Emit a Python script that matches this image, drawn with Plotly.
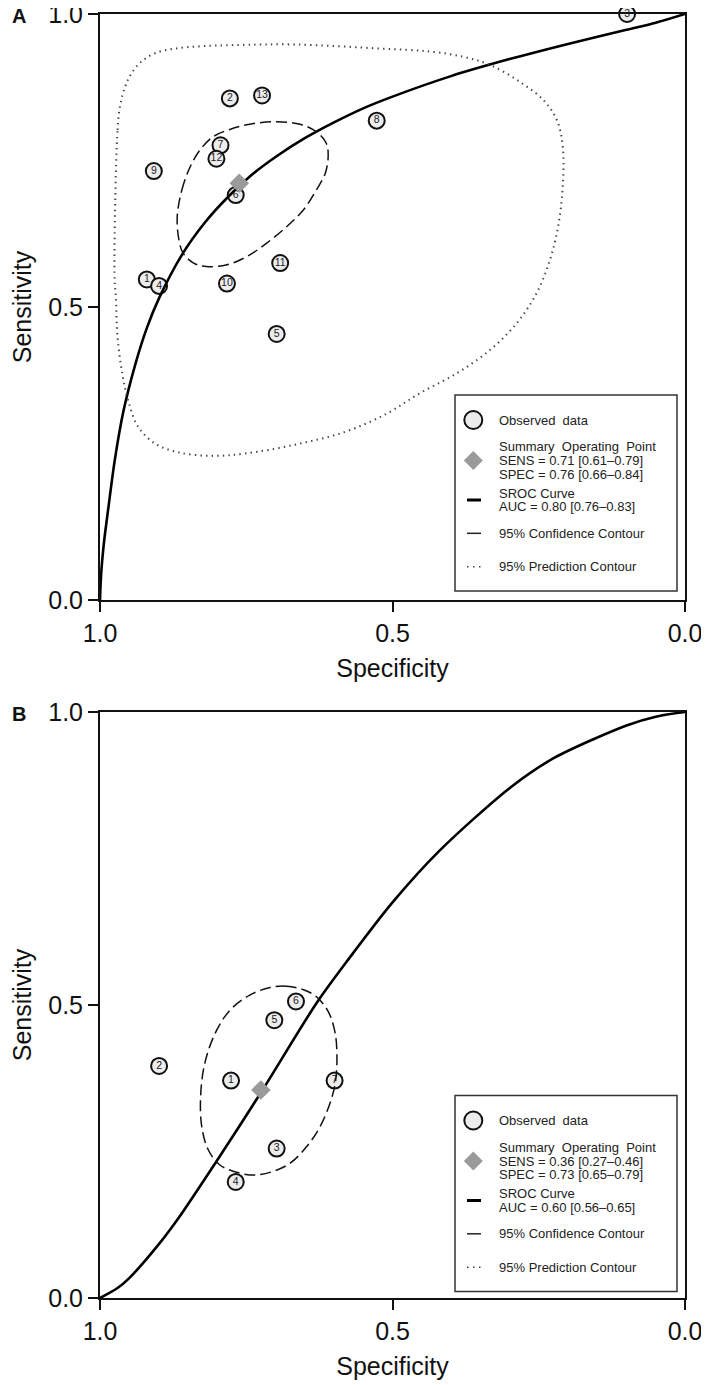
import plotly.graph_objects as go
from plotly.subplots import make_subplots

# ---- panel A data ----
a_study = ["1", "2", "3", "4", "5", "6", "7", "8", "9", "10", "11", "12", "13"]
a_spec = [0.920, 0.778, 0.099, 0.899, 0.698, 0.768, 0.794, 0.527, 0.908, 0.783, 0.692, 0.801, 0.723]
a_sens = [0.547, 0.856, 1.000, 0.536, 0.454, 0.691, 0.776, 0.818, 0.732, 0.540, 0.575, 0.753, 0.861]
a_summary = (0.762, 0.711)

a_sroc_spec = [1.0, 0.998, 0.993, 0.986, 0.975, 0.96, 0.94, 0.92, 0.90, 0.86, 0.82, 0.78, 0.74,
               0.70, 0.65, 0.60, 0.55, 0.50, 0.40, 0.30, 0.20, 0.10, 0.05, 0.0]
a_sroc_sens = [0.0, 0.045, 0.100, 0.155, 0.237, 0.322, 0.401, 0.464, 0.513, 0.589, 0.645, 0.689, 0.726,
               0.756, 0.788, 0.815, 0.839, 0.859, 0.894, 0.923, 0.949, 0.973, 0.985, 1.0]

a_conf_spec = [0.868, 0.860, 0.846, 0.829, 0.806, 0.778, 0.744, 0.704, 0.658, 0.630, 0.613, 0.610,
               0.615, 0.630, 0.652, 0.681, 0.715, 0.749, 0.783, 0.818, 0.840, 0.858, 0.865, 0.868]
a_conf_sens = [0.654, 0.700, 0.739, 0.768, 0.791, 0.803, 0.812, 0.816, 0.812, 0.799, 0.779, 0.757,
               0.728, 0.700, 0.666, 0.637, 0.609, 0.586, 0.572, 0.569, 0.575, 0.592, 0.614, 0.654]

a_pred_spec = [0.974, 0.970, 0.966, 0.957, 0.946, 0.929, 0.906, 0.872, 0.826, 0.769, 0.667, 0.521,
               0.436, 0.379, 0.333, 0.282, 0.242, 0.219, 0.209, 0.209, 0.217, 0.231, 0.254, 0.288,
               0.333, 0.390, 0.453, 0.510, 0.581, 0.667, 0.752, 0.809, 0.866, 0.906, 0.935, 0.952,
               0.962, 0.970, 0.973, 0.975, 0.974]
a_pred_sens = [0.680, 0.802, 0.842, 0.876, 0.899, 0.919, 0.933, 0.941, 0.945, 0.947, 0.948, 0.941,
               0.936, 0.927, 0.913, 0.884, 0.853, 0.819, 0.774, 0.705, 0.637, 0.580, 0.523, 0.472,
               0.427, 0.387, 0.353, 0.318, 0.287, 0.265, 0.250, 0.246, 0.252, 0.267, 0.296, 0.341,
               0.387, 0.449, 0.518, 0.546, 0.680]

a_legend = ["Observed\u00a0 data",
            "Summary\u00a0 Operating\u00a0 Point", "SENS = 0.71 [0.61\u20130.79]", "SPEC = 0.76 [0.66\u20130.84]",
            "SROC Curve", "AUC = 0.80 [0.76\u20130.83]",
            "95% Confidence Contour", "95% Prediction Contour"]

# ---- panel B data ----
b_study = ["1", "2", "3", "4", "5", "6", "7"]
b_spec = [0.776, 0.899, 0.698, 0.768, 0.702, 0.665, 0.599]
b_sens = [0.371, 0.396, 0.255, 0.198, 0.474, 0.506, 0.371]
b_summary = (0.725, 0.355)

b_sroc_spec = [1.0, 0.97, 0.95, 0.90, 0.866, 0.803, 0.724, 0.630, 0.576, 0.50, 0.42, 0.30, 0.223,
               0.10, 0.05, 0.0]
b_sroc_sens = [0.0, 0.017, 0.034, 0.091, 0.136, 0.230, 0.352, 0.503, 0.577, 0.675, 0.763, 0.870,
               0.922, 0.977, 0.992, 1.0]

b_conf_spec = [0.652, 0.681, 0.709, 0.744, 0.778, 0.803, 0.821, 0.828, 0.826, 0.815, 0.795, 0.761,
               0.732, 0.704, 0.675, 0.647, 0.624, 0.607, 0.598, 0.595, 0.598, 0.610, 0.630, 0.652]
b_conf_sens = [0.526, 0.532, 0.530, 0.517, 0.491, 0.452, 0.400, 0.344, 0.292, 0.253, 0.227, 0.213,
               0.210, 0.216, 0.230, 0.258, 0.292, 0.332, 0.366, 0.406, 0.452, 0.489, 0.514, 0.526]

b_legend = ["Observed\u00a0 data",
            "Summary\u00a0 Operating\u00a0 Point", "SENS = 0.36 [0.27\u20130.46]", "SPEC = 0.73 [0.65\u20130.79]",
            "SROC Curve", "AUC = 0.60 [0.56\u20130.65]",
            "95% Confidence Contour", "95% Prediction Contour"]

FONT = "Liberation Sans, Arial, sans-serif"
PW, PH = 585.0, 586.0  # plot area size in px

# the page body has an 8px margin, so the margins below are shifted by 8px
fig = make_subplots(rows=2, cols=1, vertical_spacing=0.0872)


def add_panel(row, study, spec, sens, summary, sroc, conf, pred):
    fig.add_trace(go.Scatter(
        x=spec, y=sens, text=study, mode="markers+text",
        textposition="middle center", textfont=dict(size=10.5, color="#222", family=FONT),
        marker=dict(size=16, color="#ececec", line=dict(color="#111", width=2)),
        cliponaxis=False, showlegend=False), row=row, col=1)
    fig.add_trace(go.Scatter(
        x=sroc[0], y=sroc[1], mode="lines", line=dict(color="#000", width=2.6, shape="spline", smoothing=0.8),
        showlegend=False), row=row, col=1)
    fig.add_trace(go.Scatter(
        x=conf[0], y=conf[1], mode="lines",
        line=dict(color="#111", width=1.5, dash="11px,5px", shape="spline", smoothing=1),
        showlegend=False), row=row, col=1)
    if pred is not None:
        fig.add_trace(go.Scatter(
            x=pred[0], y=pred[1], mode="lines",
            line=dict(color="#444", width=2, dash="1.4px,4.2px", shape="spline", smoothing=1),
            showlegend=False), row=row, col=1)
    fig.add_trace(go.Scatter(
        x=[summary[0]], y=[summary[1]], mode="markers",
        marker=dict(symbol="diamond", size=15, color="#9a9a9a", line=dict(width=0)),
        showlegend=False), row=row, col=1)


add_panel(1, a_study, a_spec, a_sens, a_summary, (a_sroc_spec, a_sroc_sens),
          (a_conf_spec, a_conf_sens), (a_pred_spec, a_pred_sens))
add_panel(2, b_study, b_spec, b_sens, b_summary, (b_sroc_spec, b_sroc_sens),
          (b_conf_spec, b_conf_sens), None)


def add_legend(suffix, top, labels):
    xr, yr = "x%s domain" % suffix, "y%s domain" % suffix
    bx = 355.0

    def fx(off):
        return (bx + off) / PW

    def fy(off):
        return (top - off) / PH

    fig.add_shape(type="rect", xref=xr, yref=yr, x0=fx(0), x1=fx(222), y0=fy(196), y1=fy(0),
                  line=dict(color="#333", width=1.5), fillcolor="white", layer="above")
    # symbols
    fig.add_shape(type="circle", xref=xr, yref=yr, x0=fx(18.3 - 9), x1=fx(18.3 + 9),
                  y0=fy(25 + 9), y1=fy(25 - 9), fillcolor="#ececec", line=dict(color="#111", width=2))
    cx, cy, h = 18.3, 65.5, 9.5
    fig.add_shape(type="path", xref=xr, yref=yr,
                  path="M %f,%f L %f,%f L %f,%f L %f,%f Z" % (
                      fx(cx), fy(cy - h), fx(cx + h), fy(cy), fx(cx), fy(cy + h), fx(cx - h), fy(cy)),
                  fillcolor="#9a9a9a", line=dict(width=0))
    fig.add_shape(type="line", xref=xr, yref=yr, x0=fx(12), x1=fx(26), y0=fy(105), y1=fy(105),
                  line=dict(color="#000", width=3))
    fig.add_shape(type="line", xref=xr, yref=yr, x0=fx(12), x1=fx(26), y0=fy(138.3), y1=fy(138.3),
                  line=dict(color="#222", width=1.5))
    fig.add_shape(type="line", xref=xr, yref=yr, x0=fx(12), x1=fx(27), y0=fy(171.7), y1=fy(171.7),
                  line=dict(color="#444", width=1.5, dash="1.5px,4.5px"))
    offs = [25, 51.7, 65.7, 79, 98.3, 111.7, 138.3, 171.7]
    for lab, off in zip(labels, offs):
        fig.add_annotation(xref=xr, yref=yr, x=fx(42.3), y=fy(off), text=lab, showarrow=False,
                           xanchor="left", yanchor="middle", font=dict(size=13, color="#222", family=FONT))


add_legend("", 205.0, a_legend)
add_legend("2", 202.5, b_legend)

axis_common = dict(
    automargin=False, ticklabeloverflow="allow",
    showline=True, linecolor="#111", linewidth=2, mirror=True,
    ticks="outside", ticklen=10, tickwidth=1.5, tickcolor="#111",
    tickvals=[0, 0.5, 1], tickformat=".1f", showgrid=False, zeroline=False,
    tickfont=dict(size=25, color="#111", family=FONT),
)
fig.update_xaxes(range=[1, 0], title=dict(text="Specificity", font=dict(size=25, color="#111"), standoff=13),
                 **axis_common)
fig.update_yaxes(range=[0, 1], title=dict(text="Sensitivity", font=dict(size=25, color="#111"), standoff=21),
                 **axis_common)

fig.add_annotation(xref="paper", yref="paper", x=-0.1385, y=0.9985, text="<b>A</b>", showarrow=False,
                   xanchor="center", yanchor="middle", font=dict(size=20, color="#111", family=FONT))
fig.add_annotation(xref="paper", yref="paper", x=-0.1385, y=0.4549, text="<b>B</b>", showarrow=False,
                   xanchor="center", yanchor="middle", font=dict(size=20, color="#111", family=FONT))

fig.update_layout(
    width=709, height=1385,
    margin=dict(l=92, r=32, t=6, b=95),
    paper_bgcolor="white", plot_bgcolor="white",
    font=dict(family=FONT, color="#111"),
    showlegend=False,
)

fig.write_html("out.html")
